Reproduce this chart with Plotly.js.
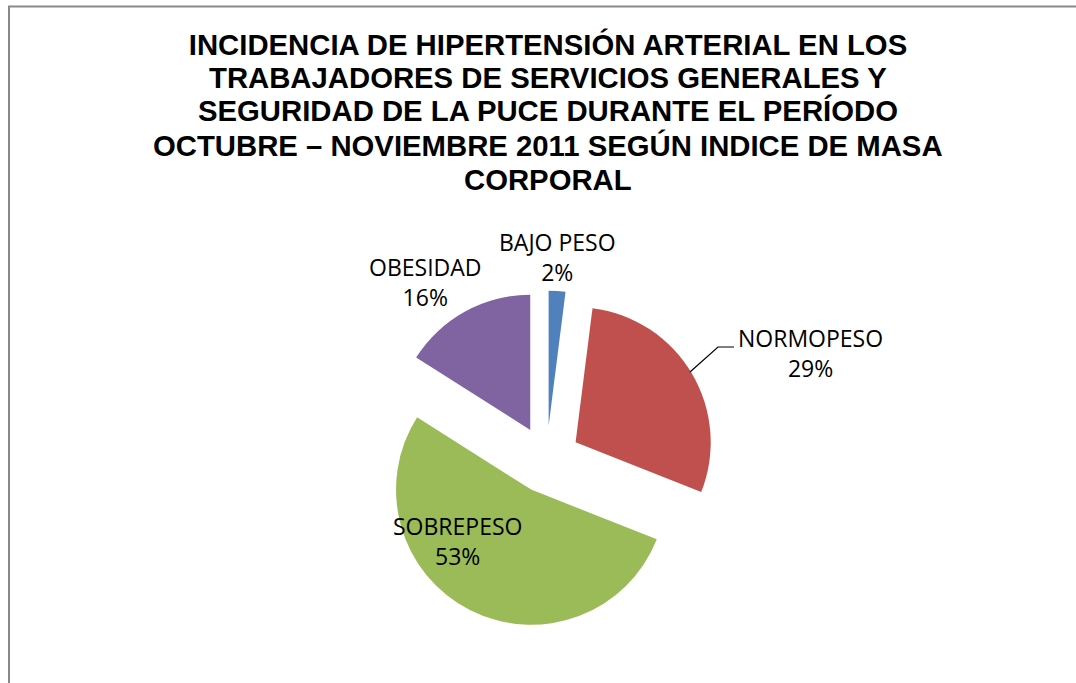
<!DOCTYPE html>
<html>
<head>
<meta charset="utf-8">
<script src="https://cdn.plot.ly/plotly-3.0.1.min.js"></script>
<style>
  html, body { margin: 0; padding: 0; background: #ffffff; }
  #chart { width: 1076px; height: 683px; }
</style>
</head>
<body>
<div id="chart"></div>
<script>
// ---- Data ----
const categories = ['BAJO PESO', 'NORMOPESO', 'SOBREPESO', 'OBESIDAD'];
const percentages = [2, 29, 53, 16];
const sliceColors = ['#4F81BD', '#C0504D', '#9BBB59', '#8064A2'];
const titleLines = [
  'INCIDENCIA DE HIPERTENSIÓN ARTERIAL EN LOS',
  'TRABAJADORES DE SERVICIOS GENERALES Y',
  'SEGURIDAD DE LA PUCE DURANTE EL PERÍODO',
  'OCTUBRE – NOVIEMBRE 2011 SEGÚN INDICE DE MASA',
  'CORPORAL'
];

// ---- Layout helpers (pixel positions in the 1076x683 frame) ----
const W = 1076, H = 683;
const px = x => x / W;
const py = y => 1 - y / H;
const labelPos = [
  [557, 257],  // BAJO PESO
  [810, 353],  // NORMOPESO
  [457, 541],  // SOBREPESO
  [425, 282]   // OBESIDAD
];
const titleCenterX = 548;
const titleLineY = [45, 78, 111, 145, 179];

const labelFont = { family: 'Open Sans, Noto Sans, sans-serif', size: 23, color: '#000000' };
const titleFont = { family: 'Liberation Sans, Arial, sans-serif', size: 29.3, color: '#000000', weight: 'bold' };

const annotations = categories.map((c, i) => ({
  text: c + '<br>' + percentages[i] + '%',
  x: px(labelPos[i][0]), y: py(labelPos[i][1]),
  xref: 'paper', yref: 'paper',
  xanchor: 'center', yanchor: 'middle',
  showarrow: false,
  align: 'center',
  font: labelFont
}));

// title lines 2..5 as annotations (line 1 is the layout title) so the line spacing matches
titleLines.slice(1).forEach((t, k) => {
  annotations.push({
    text: t,
    x: px(titleCenterX), y: py(titleLineY[k + 1]),
    xref: 'paper', yref: 'paper',
    xanchor: 'center', yanchor: 'middle',
    showarrow: false,
    font: titleFont
  });
});

const trace = {
  type: 'pie',
  labels: categories,
  values: percentages,
  marker: { colors: sliceColors, line: { width: 0 } },
  sort: false,
  direction: 'clockwise',
  rotation: 0,
  pull: [0.25, 0.25, 0.25, 0.25],
  textinfo: 'none',
  hoverinfo: 'label+percent',
  showlegend: false,
  domain: { x: [0.35093, 0.66487], y: [0.07921, 0.57525] }
};

const layout = {
  width: W, height: H,
  margin: { l: 0, r: 0, t: 0, b: 0 },
  paper_bgcolor: '#ffffff',
  plot_bgcolor: '#ffffff',
  showlegend: false,
  title: {
    text: titleLines[0],
    font: titleFont,
    x: px(titleCenterX), xanchor: 'center', xref: 'paper',
    y: py(titleLineY[0]), yanchor: 'middle', yref: 'paper'
  },
  annotations: annotations,
  shapes: [
    {
      type: 'rect', xref: 'paper', yref: 'paper',
      x0: px(9), x1: 1.05, y0: -0.05, y1: py(6.5),
      line: { color: '#898989', width: 2 },
      fillcolor: 'rgba(0,0,0,0)'
    },
    {
      type: 'path', xref: 'paper', yref: 'paper',
      path: 'M ' + px(690) + ',' + py(372) + ' L ' + px(718) + ',' + py(347) + ' L ' + px(734) + ',' + py(347),
      line: { color: '#000000', width: 1.2 }
    }
  ]
};

Plotly.newPlot('chart', [trace], layout, { displayModeBar: false, staticPlot: true });
</script>
</body>
</html>
